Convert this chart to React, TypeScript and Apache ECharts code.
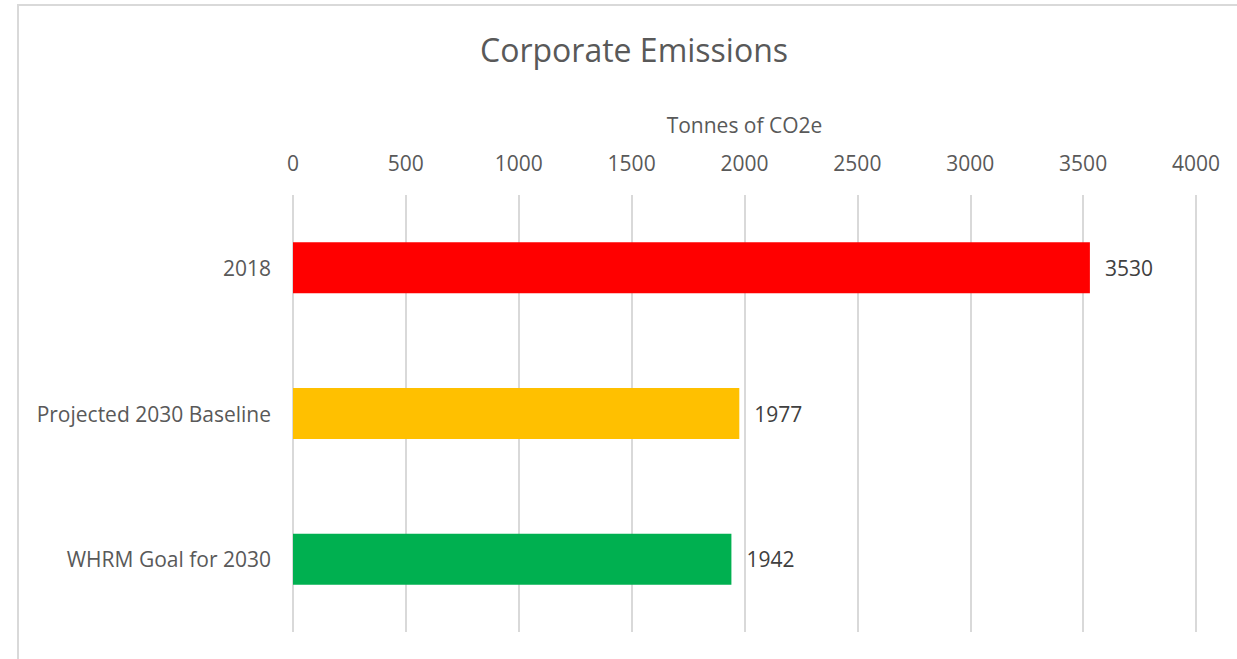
import React, { useEffect, useRef } from "react";
import * as echarts from "echarts";

const categories = ["2018", "Projected 2030 Baseline", "WHRM Goal for 2030"];
const values = [3530, 1977, 1942];
const barColors = ["#FF0000", "#FFC000", "#00B050"];
const titleText = "Corporate Emissions";
const axisName = "Tonnes of CO2e";

export default function App() {
  const ref = useRef<HTMLDivElement>(null);
  useEffect(() => {
    if (!ref.current) return;
    const chart = echarts.init(ref.current, undefined, { renderer: "svg" });
    const font = "'Open Sans', sans-serif";
    chart.setOption({
      animation: false,
      backgroundColor: "#ffffff",
      textStyle: { fontFamily: font },
      title: {
        text: titleText,
        left: 629,
        top: 28,
        textAlign: "center",
        textStyle: { fontFamily: font, fontSize: 32, fontWeight: "normal", color: "#595959" },
      },
      graphic: [
        {
          type: "rect",
          shape: { x: 18, y: 5, width: 1260, height: 700 },
          style: { fill: "none", stroke: "#d9d9d9", lineWidth: 2 },
          silent: true,
        },
      ],
      grid: { left: 293, right: 41, top: 195, bottom: 27 },
      xAxis: {
        type: "value",
        position: "top",
        min: 0,
        max: 4000,
        interval: 500,
        name: axisName,
        nameLocation: "middle",
        nameGap: 60,
        nameTextStyle: { fontFamily: font, fontSize: 21, color: "#595959" },
        axisLine: { show: false },
        axisTick: { show: false },
        axisLabel: {
          fontFamily: font,
          fontSize: 21,
          color: "#595959",
          margin: 22,
          formatter: (v: number) => String(v),
        },
        splitLine: { show: true, lineStyle: { color: "#d9d9d9", width: 2 } },
      },
      yAxis: {
        type: "category",
        data: categories,
        inverse: true,
        axisLine: { show: false },
        axisTick: { show: false },
        axisLabel: { fontFamily: font, fontSize: 21, color: "#595959", margin: 22 },
        splitLine: { show: false },
      },
      series: [
        {
          type: "bar",
          data: values.map((v, i) => ({ value: v, itemStyle: { color: barColors[i] } })),
          barWidth: 51,
          label: {
            show: true,
            position: "right",
            distance: 15,
            fontFamily: font,
            fontSize: 21,
            color: "#404040",
          },
        },
      ],
    });
    return () => chart.dispose();
  }, []);
  return (
    <div
      ref={ref}
      style={{ position: "fixed", left: 0, top: 0, width: 1237, height: 659 }}
    />
  );
}
